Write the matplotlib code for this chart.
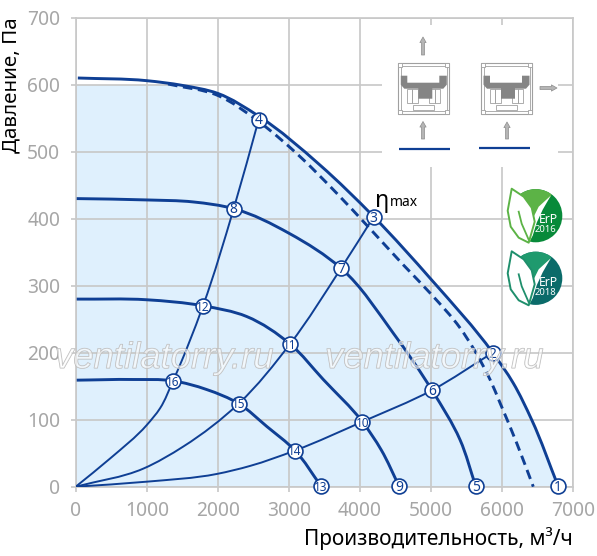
import numpy as np
import matplotlib
matplotlib.use('Agg')
import matplotlib.pyplot as plt
import matplotlib.patheffects as pe
from matplotlib.patches import Circle, PathPatch, Polygon, Rectangle
from matplotlib.path import Path

plt.rcParams['font.family'] = ['Noto Sans', 'DejaVu Sans']

BLUE = '#0f3f94'
GRID = '#c9c9c9'
TICK = '#a6a6a6'
FILL = '#dff0fd'

# outer curve, solid and dashed
outer_x = [30, 1000, 1500, 2000, 2576, 3439, 4195, 5015, 5870, 6157, 6418, 6790]
outer_y = [610, 606, 599, 587, 553, 480, 403, 308, 200, 155, 100, 1]
dash_x = [1300, 2000, 2576, 3134, 3674, 4143, 4612, 5015, 5410, 5600, 5832, 5973, 6208, 6441]
dash_y = [601, 584, 545, 495, 438, 385, 331, 286, 237, 206, 160, 125, 65, 0]

# lower fan curves
c430_x = [14, 1000, 1656, 2224, 3007, 3735, 4471, 5015, 5410, 5630]
c430_y = [430, 428, 425, 415, 378, 326, 229, 144, 70, 1]
c280_x = [14, 1000, 1792, 2407, 3017, 3485, 4035, 4300, 4551]
c280_y = [280, 279, 270, 254, 213, 160, 97, 55, 1]
c160_x = [14, 811, 1370, 1844, 2294, 2689, 3087, 3453]
c160_y = [159, 160, 158, 145, 124, 90, 54, 1]

# system curves from the origin
s1_x = [0, 483, 1000, 1187, 1370, 1792, 2224, 2576]
s1_y = [0, 42, 92, 117, 158, 270, 415, 548]
s2_x = [0, 952, 1515, 2294, 3017, 3735, 4195]
s2_y = [0, 27, 60, 124, 213, 326, 403]
s3_x = [0, 1000, 1985, 2454, 3087, 4035, 5015, 5870]
s3_y = [0, 7.5, 19, 31, 54, 97, 144, 200]

# numbered points
node_x = [6790, 5870, 4195, 2576, 5630, 5015, 3735, 2224, 4551, 4035, 3017, 1792, 3453, 3087, 2294, 1370]
node_y = [1, 200, 403, 548, 1, 144, 326, 415, 1, 97, 213, 270, 1, 54, 124, 158]

xticks = [0, 1000, 2000, 3000, 4000, 5000, 6000, 7000]
yticks = [0, 100, 200, 300, 400, 500, 600, 700]


def smooth_path(xs, ys):
    # bezier segments through the read points, y scaled so tangents match the plot aspect
    xs = np.asarray(xs, float)
    ys = np.asarray(ys, float) * 9.43
    pts = np.column_stack([xs, ys])
    seg = pts[1:] - pts[:-1]
    h = np.linalg.norm(seg, axis=1)
    unit = seg / h[:, None]
    tang = np.zeros_like(pts)
    tang[0] = unit[0]
    tang[-1] = unit[-1]
    for i in range(1, len(pts) - 1):
        tang[i] = (unit[i - 1] * h[i] + unit[i] * h[i - 1]) / (h[i] + h[i - 1])
    tang /= np.linalg.norm(tang, axis=1, keepdims=True)
    verts = [pts[0]]
    codes = [Path.MOVETO]
    for i in range(len(pts) - 1):
        d = h[i] / 3
        verts += [pts[i] + tang[i] * d, pts[i + 1] - tang[i + 1] * d, pts[i + 1]]
        codes += [Path.CURVE4] * 3
    verts = np.array(verts)
    verts[:, 1] /= 9.43
    return Path(verts, codes)


W, H = 597, 556
fig = plt.figure(figsize=(W / 100, H / 100), dpi=100)
ax = fig.add_axes([75.7 / W, (H - 486.7) / H, 497.3 / W, 469 / H])
ax.set_xlim(0, 7000)
ax.set_ylim(0, 700)
ax.set_xticks(xticks)
ax.set_yticks(yticks)
ax.set_axisbelow('line')
ax.grid(True, color=GRID, lw=1.25)
for s in ax.spines.values():
    s.set_color(GRID)
    s.set_linewidth(1.25)
ax.tick_params(axis='x', colors=GRID, length=3.6, width=1.25, pad=7, labelsize=13.8, labelcolor=TICK)
ax.tick_params(axis='y', colors=GRID, length=3.6, width=1.25, pad=7.5, labelsize=13.8, labelcolor=TICK)

# shading is bounded by the solid curve and stops at 600 on the left
outer_path = smooth_path(outer_x, outer_y)
fill_v = np.vstack([[[0, 0], [0, outer_y[0]]], outer_path.vertices, [[outer_x[-1], 0], [0, 0]]])
fill_c = [Path.MOVETO, Path.LINETO, Path.LINETO] + list(outer_path.codes[1:]) + [Path.LINETO, Path.CLOSEPOLY]
shade = PathPatch(Path(fill_v, fill_c), fc=FILL, ec='none', zorder=0.5)
ax.add_patch(shade)
shade.set_clip_path(Rectangle((0, 0), 7000, 600, transform=ax.transData))

for xs, ys in [(s1_x, s1_y), (s2_x, s2_y), (s3_x, s3_y)]:
    ax.add_patch(PathPatch(smooth_path(xs, ys), fc='none', ec=BLUE, lw=1.4, zorder=3))
for xs, ys in [(outer_x, outer_y), (c430_x, c430_y), (c280_x, c280_y), (c160_x, c160_y)]:
    ax.add_patch(PathPatch(smooth_path(xs, ys), fc='none', ec=BLUE, lw=2.1, zorder=3))
ax.add_patch(PathPatch(smooth_path(dash_x, dash_y), fc='none', ec=BLUE, lw=2.1, zorder=3, linestyle=(0, (3.3, 1.9)),
                       capstyle='butt'))

ax.scatter(node_x, node_y, s=115, facecolor='white', edgecolor=BLUE, lw=1.2, zorder=5, clip_on=False)
for i, (nx, ny) in enumerate(zip(node_x, node_y)):
    num = str(i + 1)
    ax.text(nx, ny - 2, num, ha='center', va='center', color=BLUE, zorder=6, clip_on=False,
            fontsize=10 if len(num) == 1 else 8.5, fontweight='medium')

ax.set_xlabel('Производительность, м³/ч', fontsize=15, color='black', loc='right', labelpad=4)
ax.set_ylabel('Давление, Па', fontsize=14.8, color='black', loc='top', labelpad=4)

# overlay in pixel coords for the pictograms
ov = fig.add_axes([0, 0, 1, 1], zorder=10)
ov.set_xlim(0, W)
ov.set_ylim(H, 0)
ov.axis('off')
ov.patch.set_alpha(0)

ov.add_patch(Rectangle((381.7, 25), 176, 142, fc='white', ec='none', zorder=1))

GREY = '#a0a0a0'
DARK = '#858585'


def box(x0):
    y0 = 62.7
    ov.add_patch(Rectangle((x0, y0), 51, 51, fc='white', ec=GREY, lw=0.8, zorder=2))
    ov.add_patch(Rectangle((x0 + 2.5, y0 + 3), 46, 45, fc='none', ec=GREY, lw=0.6, zorder=2))
    for cx in (x0 + 2, x0 + 49):
        for cy in (y0 + 2, y0 + 49):
            ov.add_patch(Rectangle((cx - 2, cy - 2), 4, 4, fc='white', ec=GREY, lw=0.6, zorder=2))
    # impeller
    ov.add_patch(Polygon([(x0 + 2.5, y0 + 13), (x0 + 9, y0 + 13), (x0 + 9, y0 + 20), (x0 + 41, y0 + 20),
                          (x0 + 41, y0 + 13), (x0 + 48.5, y0 + 13), (x0 + 48.5, y0 + 22), (x0 + 45, y0 + 26),
                          (x0 + 34, y0 + 26), (x0 + 34, y0 + 36), (x0 + 20, y0 + 36), (x0 + 20, y0 + 26),
                          (x0 + 6, y0 + 26), (x0 + 2.5, y0 + 22)], fc=DARK, ec='none', zorder=3))
    for dx, w in [(9, 5), (14, 6), (31, 6), (37, 5)]:
        ov.add_patch(Rectangle((x0 + dx, y0 + 26), w, 14, fc='none', ec=GREY, lw=0.6, zorder=2))
    ov.add_patch(Rectangle((x0 + 15, y0 + 42), 21, 5, fc='none', ec=GREY, lw=0.6, zorder=2))


def arrow(x1, y1, x2, y2):
    ov.annotate('', xy=(x2, y2), xytext=(x1, y1), zorder=4,
                arrowprops=dict(arrowstyle='simple,head_width=0.45,head_length=0.4,tail_width=0.22',
                                fc='#b5b5b5', ec='#8c8c8c', lw=0.5, shrinkA=0, shrinkB=0))


box(398.3)
box(481)
arrow(423, 55, 423, 37)
arrow(423, 139, 423, 121.5)
arrow(507, 139, 507, 122)
arrow(540, 88, 557, 88)
ov.plot([399.3, 450], [149, 149], color=BLUE, lw=1.6, solid_capstyle='butt', zorder=4)
ov.plot([479.3, 530], [147.7, 147.7], color=BLUE, lw=1.6, solid_capstyle='butt', zorder=4)


def erp(cx, cy, light, dark, edge, year):
    def p(pts):
        return [(cx + a, cy + b) for a, b in pts]
    disc = Circle((cx, cy), 26.6, fc=dark, ec='none', zorder=2)
    ov.add_patch(disc)
    wedge = Polygon(p([(-30, -30), (19, -30), (15, -19), (7, -8), (1, 5), (-6, 28), (-30, 28)]),
                    fc=light, ec='none', zorder=3)
    ov.add_patch(wedge)
    wedge.set_clip_path(disc)
    ov.add_patch(Polygon(p([(15, -20), (7, -6), (1, 7), (-3, 20), (-7, 27), (-8, 20), (-4, 5), (3, -9)]),
                         fc='white', ec='none', zorder=4))
    ov.add_patch(Polygon(p([(-24, -27), (-12, -19), (-4, -8), (-1, 6), (-7, 27), (-17, 22), (-25, 11), (-28, -5)]),
                         fc='white', ec=edge, lw=1.4, joinstyle='round', zorder=4))
    ov.plot(*zip(*p([(-17, -4), (-14, 8), (-7, 24)])), color=edge, lw=1.3, zorder=5)
    ov.text(cx + 13, cy + 4, 'ErP', color='white', fontsize=8.8, ha='center', va='center', zorder=6)
    ov.text(cx + 10, cy + 14, year, color='white', fontsize=6.8, ha='center', va='center', zorder=6)


erp(535.7, 215.7, '#5cb346', '#088a3a', '#5cb346', '2016')
erp(535.7, 278.3, '#1f9a6e', '#0b6b6a', '#1f8f6c', '2018')

ov.text(382, 201, 'η', fontsize=17, color='black', ha='center', va='center', zorder=6)
ov.text(390, 202, 'max', fontsize=10, color='black', ha='left', va='center', zorder=6)

# watermark
for wx in (55, 325):
    ov.text(wx, 368, 'ventilatorry.ru', family='Liberation Sans', style='italic', fontsize=26.3,
            color=(1, 1, 1, 0.25), ha='left', va='baseline', zorder=8,
            path_effects=[pe.withStroke(linewidth=0.7, foreground='#b8b8b8'),
                          pe.Normal()])

fig.savefig('out.png', dpi=100)
